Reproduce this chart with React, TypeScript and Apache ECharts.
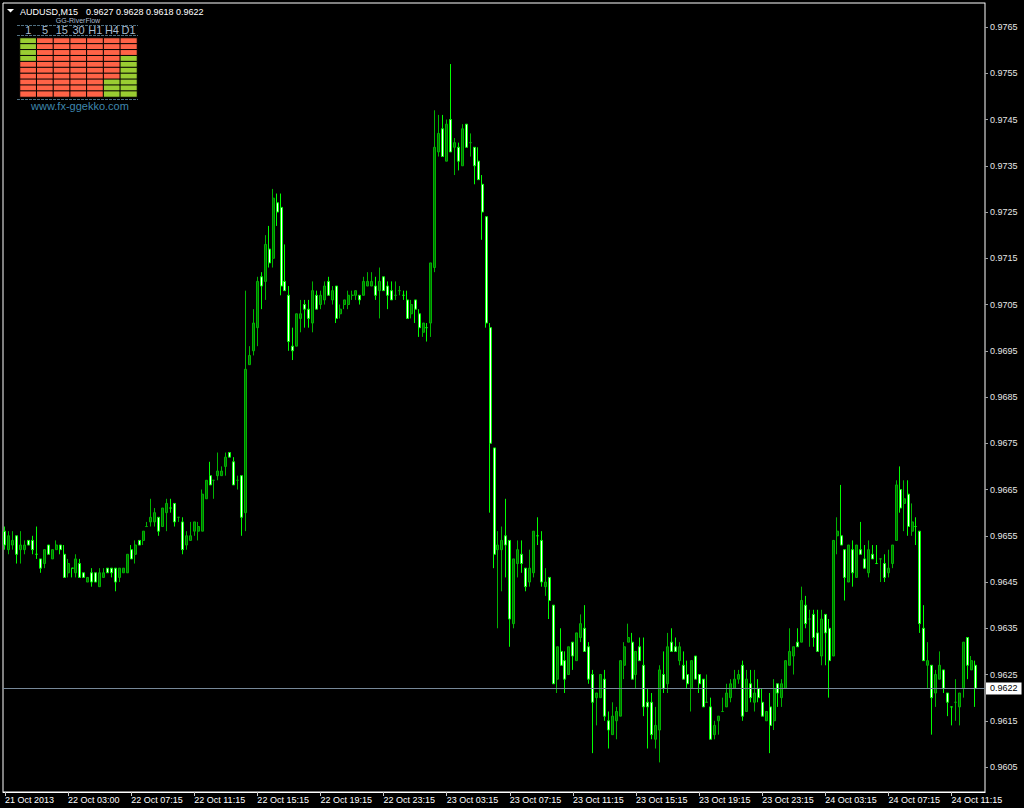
import React, { useEffect, useRef } from 'react';
import * as echarts from 'echarts';

const symbolName = 'AUDUSD,M15';

const xTickLabels = [
  '21 Oct 2013', '22 Oct 03:00', '22 Oct 07:15', '22 Oct 11:15', '22 Oct 15:15', '22 Oct 19:15',
  '22 Oct 23:15', '23 Oct 03:15', '23 Oct 07:15', '23 Oct 11:15', '23 Oct 15:15', '23 Oct 19:15',
  '23 Oct 23:15', '24 Oct 03:15', '24 Oct 07:15', '24 Oct 11:15',
];

const yTickValues = [
  0.9605, 0.9615, 0.9625, 0.9635, 0.9645, 0.9655, 0.9665, 0.9675, 0.9685,
  0.9695, 0.9705, 0.9715, 0.9725, 0.9735, 0.9745, 0.9755, 0.9765,
];

const opens = [
  0.9656,0.9652,0.9653,0.9655,0.9652,0.9652,0.9654,0.9654,0.9651,0.9650,
  0.9649,0.9653,0.9650,0.9652,0.9653,0.9651,0.9647,0.9648,0.9647,0.9649,
  0.9647,0.9645,0.9647,0.9647,0.9644,0.9646,0.9648,0.9648,0.9648,0.9646,
  0.9647,0.9647,0.9652,0.9651,0.9654,0.9654,0.9657,0.9658,0.9658,0.9659,
  0.9657,0.9660,0.9661,0.9662,0.9659,0.9658,0.9653,0.9654,0.9656,0.9656,
  0.9656,0.9663,0.9668,0.9667,0.9668,0.9668,0.9670,0.9673,0.9671,0.9667,
  0.9668,0.9660,0.9692,0.9695,0.9700,0.9711,0.9710,0.9717,0.9715,0.9727,
  0.9726,0.9710,0.9707,0.9696,0.9696,0.9702,0.9705,0.9704,0.9701,0.9707,
  0.9705,0.9706,0.9710,0.9706,0.9709,0.9703,0.9705,0.9705,0.9707,0.9707,
  0.9707,0.9707,0.9709,0.9709,0.9709,0.9708,0.9711,0.9709,0.9708,0.9707,
  0.9708,0.9707,0.9706,0.9703,0.9706,0.9703,0.9699,0.9700,0.9701,0.9713,
  0.9738,0.9743,0.9736,0.9745,0.9739,0.9739,0.9735,0.9744,0.9740,0.9739,
  0.9736,0.9731,0.9724,0.9700,0.9674,0.9652,0.9652,0.9655,0.9654,0.9636,
  0.9649,0.9651,0.9648,0.9645,0.9647,0.9655,0.9654,0.9644,0.9646,0.9640,
  0.9624,0.9630,0.9628,0.9625,0.9632,0.9628,0.9633,0.9635,0.9631,0.9625,
  0.9620,0.9620,0.9624,0.9615,0.9612,0.9615,0.9616,0.9627,0.9632,0.9632,
  0.9625,0.9631,0.9627,0.9619,0.9619,0.9611,0.9613,0.9625,0.9623,0.9632,
  0.9631,0.9628,0.9627,0.9625,0.9622,0.9629,0.9625,0.9624,0.9619,0.9618,
  0.9612,0.9615,0.9617,0.9618,0.9620,0.9622,0.9624,0.9627,0.9617,0.9623,
  0.9619,0.9622,0.9619,0.9615,0.9618,0.9615,0.9623,0.9620,0.9622,0.9627,
  0.9629,0.9632,0.9632,0.9640,0.9637,0.9638,0.9634,0.9629,0.9638,0.9635,
  0.9629,0.9655,0.9655,0.9652,0.9645,0.9652,0.9646,0.9652,0.9650,0.9647,
  0.9651,0.9649,0.9650,0.9649,0.9647,0.9649,0.9654,0.9665,0.9662,0.9664,
  0.9656,0.9657,0.9656,0.9635,0.9627,0.9627,0.9621,0.9624,0.9626,0.9621,
  0.9618,0.9619,0.9618,0.9622,0.9633,0.9626,0.9627,
];

const highs = [
  0.9657,0.9656,0.9656,0.9655,0.9656,0.9654,0.9654,0.9655,0.9657,0.9650,
  0.9652,0.9653,0.9652,0.9654,0.9653,0.9653,0.9650,0.9648,0.9651,0.9650,
  0.9647,0.9646,0.9648,0.9647,0.9648,0.9648,0.9648,0.9648,0.9648,0.9648,
  0.9648,0.9651,0.9653,0.9654,0.9654,0.9656,0.9658,0.9663,0.9661,0.9659,
  0.9661,0.9663,0.9663,0.9662,0.9659,0.9659,0.9656,0.9658,0.9658,0.9658,
  0.9665,0.9667,0.9671,0.9667,0.9673,0.9670,0.9673,0.9673,0.9672,0.9668,
  0.9668,0.9708,0.9696,0.9704,0.9711,0.9712,0.9720,0.9722,0.9730,0.9729,
  0.9729,0.9718,0.9709,0.9700,0.9703,0.9706,0.9706,0.9706,0.9710,0.9708,
  0.9708,0.9710,0.9711,0.9709,0.9709,0.9705,0.9706,0.9708,0.9708,0.9708,
  0.9707,0.9711,0.9712,0.9712,0.9711,0.9713,0.9711,0.9710,0.9710,0.9710,
  0.9709,0.9708,0.9708,0.9706,0.9706,0.9704,0.9701,0.9701,0.9714,0.9747,
  0.9746,0.9746,0.9745,0.9757,0.9741,0.9740,0.9744,0.9744,0.9742,0.9739,
  0.9739,0.9733,0.9724,0.9701,0.9674,0.9656,0.9657,0.9663,0.9654,0.9650,
  0.9654,0.9654,0.9648,0.9652,0.9656,0.9659,0.9656,0.9648,0.9646,0.9640,
  0.9631,0.9635,0.9630,0.9631,0.9632,0.9634,0.9638,0.9640,0.9632,0.9626,
  0.9621,0.9625,0.9626,0.9617,0.9619,0.9618,0.9628,0.9632,0.9636,0.9634,
  0.9630,0.9633,0.9633,0.9622,0.9621,0.9618,0.9627,0.9630,0.9634,0.9635,
  0.9633,0.9632,0.9630,0.9628,0.9628,0.9629,0.9625,0.9624,0.9625,0.9620,
  0.9615,0.9616,0.9620,0.9623,0.9624,0.9626,0.9626,0.9628,0.9626,0.9626,
  0.9626,0.9624,0.9622,0.9617,0.9621,0.9624,0.9623,0.9624,0.9628,0.9635,
  0.9631,0.9635,0.9644,0.9642,0.9639,0.9639,0.9639,0.9639,0.9638,0.9637,
  0.9654,0.9659,0.9666,0.9652,0.9653,0.9654,0.9653,0.9658,0.9653,0.9654,
  0.9653,0.9653,0.9650,0.9651,0.9652,0.9653,0.9667,0.9670,0.9667,0.9667,
  0.9662,0.9659,0.9656,0.9640,0.9632,0.9627,0.9626,0.9630,0.9626,0.9621,
  0.9618,0.9624,0.9621,0.9632,0.9633,0.9629,0.9628,
];

const lows = [
  0.9652,0.9651,0.9652,0.9649,0.9649,0.9651,0.9653,0.9651,0.9650,0.9647,
  0.9648,0.9651,0.9650,0.9652,0.9651,0.9646,0.9646,0.9646,0.9646,0.9646,
  0.9646,0.9645,0.9644,0.9645,0.9644,0.9646,0.9647,0.9646,0.9643,0.9645,
  0.9647,0.9647,0.9650,0.9649,0.9653,0.9653,0.9657,0.9657,0.9657,0.9655,
  0.9657,0.9656,0.9660,0.9657,0.9658,0.9651,0.9652,0.9654,0.9655,0.9654,
  0.9656,0.9663,0.9666,0.9663,0.9667,0.9668,0.9668,0.9672,0.9666,0.9665,
  0.9655,0.9656,0.9692,0.9694,0.9696,0.9704,0.9706,0.9713,0.9713,0.9722,
  0.9707,0.9708,0.9695,0.9693,0.9696,0.9699,0.9700,0.9700,0.9699,0.9704,
  0.9704,0.9705,0.9707,0.9705,0.9701,0.9702,0.9704,0.9704,0.9706,0.9706,
  0.9705,0.9707,0.9709,0.9709,0.9706,0.9702,0.9708,0.9704,0.9706,0.9706,
  0.9707,0.9706,0.9702,0.9702,0.9701,0.9698,0.9698,0.9697,0.9698,0.9712,
  0.9737,0.9737,0.9736,0.9738,0.9733,0.9734,0.9735,0.9739,0.9737,0.9731,
  0.9732,0.9719,0.9700,0.9660,0.9648,0.9635,0.9643,0.9646,0.9631,0.9635,
  0.9646,0.9647,0.9643,0.9644,0.9646,0.9653,0.9644,0.9642,0.9637,0.9623,
  0.9621,0.9627,0.9621,0.9625,0.9626,0.9628,0.9632,0.9630,0.9623,0.9608,
  0.9614,0.9620,0.9615,0.9609,0.9612,0.9611,0.9616,0.9624,0.9632,0.9624,
  0.9622,0.9628,0.9616,0.9609,0.9611,0.9609,0.9606,0.9621,0.9621,0.9630,
  0.9630,0.9627,0.9624,0.9622,0.9617,0.9624,0.9621,0.9618,0.9619,0.9611,
  0.9611,0.9612,0.9617,0.9618,0.9619,0.9622,0.9623,0.9615,0.9617,0.9619,
  0.9617,0.9619,0.9616,0.9615,0.9608,0.9613,0.9618,0.9618,0.9622,0.9627,
  0.9625,0.9631,0.9632,0.9635,0.9631,0.9631,0.9630,0.9627,0.9627,0.9620,
  0.9629,0.9651,0.9653,0.9641,0.9645,0.9644,0.9646,0.9651,0.9648,0.9646,
  0.9650,0.9649,0.9645,0.9645,0.9646,0.9648,0.9654,0.9660,0.9656,0.9655,
  0.9655,0.9653,0.9634,0.9628,0.9622,0.9612,0.9618,0.9624,0.9621,0.9616,
  0.9614,0.9615,0.9614,0.9620,0.9624,0.9626,0.9618,
];

const closes = [
  0.9653,0.9655,0.9654,0.9651,0.9653,0.9653,0.9653,0.9652,0.9651,0.9648,
  0.9652,0.9651,0.9652,0.9653,0.9652,0.9646,0.9649,0.9648,0.9650,0.9646,
  0.9646,0.9646,0.9645,0.9645,0.9647,0.9647,0.9647,0.9647,0.9645,0.9648,
  0.9648,0.9651,0.9650,0.9653,0.9653,0.9656,0.9657,0.9659,0.9660,0.9656,
  0.9661,0.9662,0.9661,0.9658,0.9659,0.9652,0.9655,0.9655,0.9658,0.9657,
  0.9664,0.9667,0.9666,0.9667,0.9669,0.9669,0.9672,0.9672,0.9666,0.9667,
  0.9659,0.9691,0.9694,0.9701,0.9710,0.9709,0.9718,0.9714,0.9728,0.9725,
  0.9709,0.9708,0.9697,0.9695,0.9703,0.9703,0.9704,0.9702,0.9708,0.9704,
  0.9707,0.9709,0.9707,0.9708,0.9702,0.9704,0.9706,0.9707,0.9707,0.9708,
  0.9706,0.9710,0.9710,0.9710,0.9707,0.9710,0.9708,0.9707,0.9706,0.9707,
  0.9708,0.9707,0.9702,0.9705,0.9704,0.9700,0.9701,0.9700,0.9714,0.9739,
  0.9742,0.9737,0.9744,0.9738,0.9740,0.9736,0.9743,0.9739,0.9740,0.9735,
  0.9732,0.9725,0.9701,0.9675,0.9651,0.9653,0.9654,0.9653,0.9637,0.9650,
  0.9652,0.9649,0.9644,0.9648,0.9656,0.9655,0.9645,0.9645,0.9641,0.9623,
  0.9631,0.9627,0.9624,0.9631,0.9629,0.9634,0.9636,0.9630,0.9624,0.9619,
  0.9621,0.9625,0.9616,0.9613,0.9616,0.9617,0.9628,0.9631,0.9633,0.9624,
  0.9630,0.9628,0.9618,0.9618,0.9612,0.9614,0.9626,0.9622,0.9631,0.9630,
  0.9630,0.9631,0.9624,0.9623,0.9628,0.9624,0.9623,0.9618,0.9619,0.9611,
  0.9614,0.9616,0.9617,0.9621,0.9623,0.9624,0.9625,0.9616,0.9624,0.9620,
  0.9621,0.9620,0.9616,0.9617,0.9614,0.9622,0.9621,0.9623,0.9628,0.9630,
  0.9631,0.9631,0.9641,0.9636,0.9637,0.9633,0.9630,0.9637,0.9634,0.9628,
  0.9654,0.9656,0.9653,0.9646,0.9653,0.9647,0.9653,0.9651,0.9648,0.9652,
  0.9650,0.9649,0.9650,0.9646,0.9648,0.9653,0.9666,0.9661,0.9663,0.9657,
  0.9658,0.9657,0.9636,0.9628,0.9628,0.9620,0.9625,0.9627,0.9622,0.9619,
  0.9618,0.9619,0.9621,0.9632,0.9627,0.9628,0.9622,
];

// GG-RiverFlow indicator panel: 1 = green (up), 0 = red (down), rows top to bottom
const timeframes = ['1', '5', '15', '30', 'H1', 'H4', 'D1'];
const flowM1 = [1, 1, 1, 1, 0, 0, 0, 0, 0, 0];
const flowM5 = [0, 0, 0, 0, 0, 0, 0, 0, 0, 0];
const flowM15 = [0, 0, 0, 0, 0, 0, 0, 0, 0, 0];
const flowM30 = [0, 0, 0, 0, 0, 0, 0, 0, 0, 0];
const flowH1 = [0, 0, 0, 0, 0, 0, 0, 0, 0, 0];
const flowH4 = [0, 0, 0, 0, 0, 0, 0, 1, 1, 1];
const flowD1 = [0, 0, 0, 1, 1, 1, 1, 1, 1, 1];
const flowRows = ['r1', 'r2', 'r3', 'r4', 'r5', 'r6', 'r7', 'r8', 'r9', 'r10'];

const FONT = '"Liberation Sans", Arial, sans-serif';

export default function App() {
  const ref = useRef<HTMLDivElement>(null);

  useEffect(() => {
    document.body.style.margin = '0';
    document.body.style.background = '#000000';
    const chart = echarts.init(ref.current as HTMLDivElement, null, { renderer: 'svg' });

    const n = opens.length;
    const categories = Array.from({ length: n + 2 }, (_, i) => String(i));
    const candleData = opens.map((o, i) => [o, closes[i], lows[i], highs[i]]);
    const lastO = opens[n - 1];
    const lastH = highs[n - 1];
    const lastL = lows[n - 1];
    const lastC = closes[n - 1];

    const flows = [flowM1, flowM5, flowM15, flowM30, flowH1, flowH4, flowD1];
    const heatData: number[][] = [];
    flows.forEach((col, c) => col.forEach((v, r) => heatData.push([c, r, v])));

    const showTick = (i: number) => i % 16 === 0;
    const dashColor = '#4f6f80';

    chart.setOption({
      animation: false,
      backgroundColor: '#000000',
      grid: [
        { left: 3, right: 39, top: 3, bottom: 16, show: true, borderColor: '#ffffff', borderWidth: 1, backgroundColor: 'transparent' },
        { left: 20, top: 38, width: 117, height: 59 },
      ],
      xAxis: [
        {
          type: 'category',
          gridIndex: 0,
          data: categories,
          boundaryGap: true,
          axisLine: { show: true, lineStyle: { color: '#ffffff' } },
          axisTick: { show: true, alignWithLabel: true, interval: showTick, length: 4, lineStyle: { color: '#c8c8c8' } },
          axisLabel: {
            interval: showTick,
            formatter: (v: string) => xTickLabels[Number(v) / 16] ?? '',
            align: 'left',
            color: '#ffffff',
            fontSize: 9,
            fontFamily: FONT,
            margin: 3,
          },
          splitLine: { show: false },
        },
        {
          type: 'category',
          gridIndex: 1,
          data: timeframes,
          position: 'top',
          axisLine: { show: false },
          axisTick: { show: false },
          axisLabel: { interval: 0, color: '#a9bccf', fontSize: 11, fontFamily: FONT, margin: 3 },
          splitLine: { show: false },
        },
      ],
      yAxis: [
        {
          type: 'value',
          gridIndex: 0,
          position: 'right',
          min: 0.95996,
          max: 0.97702,
          axisLine: { show: true, lineStyle: { color: '#808080' } },
          axisTick: { show: true, length: 3, customValues: yTickValues, lineStyle: { color: '#a0a0a0' } },
          axisLabel: {
            customValues: yTickValues,
            formatter: (v: number) => v.toFixed(4),
            color: '#e6e6e6',
            fontSize: 9,
            fontFamily: FONT,
            margin: 5,
          },
          splitLine: { show: false },
        },
        {
          type: 'category',
          gridIndex: 1,
          data: flowRows,
          inverse: true,
          show: false,
        },
      ],
      visualMap: {
        show: false,
        type: 'piecewise',
        seriesIndex: 1,
        dimension: 2,
        pieces: [
          { value: 1, color: '#9acd32' },
          { value: 0, color: '#ff6347' },
        ],
      },
      series: [
        {
          type: 'candlestick',
          xAxisIndex: 0,
          yAxisIndex: 0,
          data: candleData,
          barWidth: 2.5,
          z: 3,
          itemStyle: {
            color: '#007000',
            color0: '#ffffff',
            borderColor: '#00b400',
            borderColor0: '#00ff00',
            borderWidth: 1,
          },
        },
        {
          type: 'heatmap',
          xAxisIndex: 1,
          yAxisIndex: 1,
          data: heatData,
          itemStyle: { borderColor: '#000000', borderWidth: 1 },
        },
        {
          type: 'line',
          xAxisIndex: 0,
          yAxisIndex: 0,
          data: [],
          z: 1,
          silent: true,
          markLine: {
            silent: true,
            precision: 4,
            symbol: ['none', 'none'],
            data: [{ yAxis: lastC }],
            lineStyle: { color: '#778899', width: 1, type: 'solid' },
            emphasis: { disabled: true },
            label: {
              show: true,
              position: 'end',
              distance: 1,
              formatter: lastC.toFixed(4),
              backgroundColor: '#ffffff',
              color: '#000000',
              fontSize: 9,
              fontFamily: FONT,
              padding: [2, 4, 1, 4],
            },
          },
        },
      ],
      graphic: [
        {
          type: 'text',
          x: 78,
          y: 20.5,
          style: { text: 'GG-RiverFlow', fill: '#a9bccf', fontSize: 7, fontFamily: FONT, textAlign: 'center', textVerticalAlign: 'middle' },
        },
        { type: 'line', shape: { x1: 17, y1: 25.5, x2: 138, y2: 25.5 }, style: { stroke: dashColor, lineWidth: 1, lineDash: [3, 1] } },
        { type: 'line', shape: { x1: 17, y1: 35.5, x2: 138, y2: 35.5 }, style: { stroke: dashColor, lineWidth: 1, lineDash: [3, 1] } },
        { type: 'line', shape: { x1: 17, y1: 99.5, x2: 138, y2: 99.5 }, style: { stroke: dashColor, lineWidth: 1, lineDash: [3, 1] } },
        {
          type: 'text',
          x: 80,
          y: 106,
          style: { text: 'www.fx-ggekko.com', fill: '#3f86ad', fontSize: 11, fontFamily: FONT, textAlign: 'center', textVerticalAlign: 'middle' },
        },
        { type: 'polygon', shape: { points: [[7, 9], [14, 9], [10.5, 12.5]] }, style: { fill: '#ffffff' } },
        {
          type: 'text',
          x: 20,
          y: 11.5,
          style: { text: symbolName, fill: '#ffffff', fontSize: 9, fontFamily: FONT, textAlign: 'left', textVerticalAlign: 'middle' },
        },
        {
          type: 'text',
          x: 86,
          y: 11.5,
          style: {
            text: `${lastO.toFixed(4)} ${lastH.toFixed(4)} ${lastL.toFixed(4)} ${lastC.toFixed(4)}`,
            fill: '#ffffff',
            fontSize: 9,
            fontFamily: FONT,
            textAlign: 'left',
            textVerticalAlign: 'middle',
          },
        },
      ],
    });

    return () => {
      chart.dispose();
    };
  }, []);

  return <div ref={ref} style={{ width: 1024, height: 808, background: '#000000' }} />;
}
